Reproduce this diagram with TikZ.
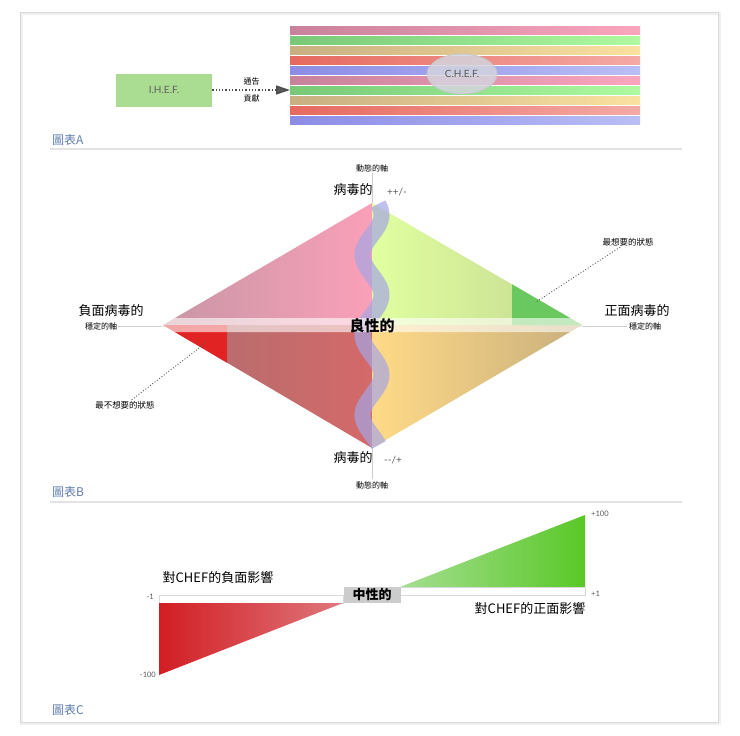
\documentclass[tikz,border=0pt]{standalone}
\usepackage{fontspec}
\setmainfont{Noto Sans CJK TC}
\newfontfamily\latinsf{Lato}
\usetikzlibrary{positioning,shapes.geometric,arrows.meta}

\definecolor{titleblue}{RGB}{95,125,175}
\definecolor{ihefgreen}{RGB}{170,220,145}
\definecolor{chefgray}{RGB}{212,212,222}
\definecolor{pinkL}{RGB}{200,130,155}\definecolor{pinkR}{RGB}{250,165,190}
\definecolor{greenL}{RGB}{120,200,120}\definecolor{greenR}{RGB}{175,250,160}
\definecolor{tanL}{RGB}{200,175,130}\definecolor{tanR}{RGB}{250,225,160}
\definecolor{redL}{RGB}{230,105,95}\definecolor{redR}{RGB}{245,170,165}
\definecolor{blueL}{RGB}{140,140,230}\definecolor{blueR}{RGB}{185,190,245}
\definecolor{tlL}{RGB}{200,150,165}\definecolor{tlR}{RGB}{250,160,185}
\definecolor{trL}{RGB}{225,255,160}\definecolor{trR}{RGB}{195,215,145}
\definecolor{blL}{RGB}{175,110,112}\definecolor{blR}{RGB}{212,105,105}
\definecolor{brL}{RGB}{255,218,135}\definecolor{brR}{RGB}{200,175,125}
\definecolor{bestgreen}{RGB}{105,200,95}
\definecolor{worstred}{RGB}{225,35,35}
\definecolor{wavecol}{RGB}{165,165,228}
\definecolor{posL}{RGB}{165,222,145}\definecolor{posR}{RGB}{90,200,40}
\definecolor{negL}{RGB}{210,30,35}\definecolor{negR}{RGB}{222,120,125}

\tikzset{
  cjklabel/.style={font=\fontsize{13}{15}\selectfont, inner sep=1pt},
  smalllabel/.style={font=\fontsize{8}{10}\selectfont, inner sep=1pt},
  notelabel/.style={font=\fontsize{8.5}{10}\selectfont, inner sep=1pt},
  numlabel/.style={font=\latinsf\fontsize{7.5}{9}\selectfont, text=gray!70!black, inner sep=1pt},
  charttitle/.style={font=\fontsize{12}{14}\selectfont, text=titleblue, inner sep=0pt, anchor=west},
  ihefbox/.style={fill=ihefgreen, minimum width=96pt, minimum height=33pt, font=\latinsf\fontsize{10}{12}\selectfont, text=gray!75!black},
  chefoval/.style={ellipse, draw=gray!45, line width=0.8pt, fill=chefgray, fill opacity=0.85, text opacity=1, minimum width=70pt, minimum height=40pt, font=\latinsf\fontsize{10}{12}\selectfont, text=gray!70!black},
  neutralbox/.style={fill=gray!40, minimum width=57pt, minimum height=16pt, inner sep=0pt, font=\bfseries\fontsize{13}{15}\selectfont},
  rule/.style={draw=gray!22, line width=1.2pt},
  axis/.style={draw=gray!40, line width=0.8pt},
  leader/.style={draw=gray!65!black, dotted, line width=0.9pt},
  bar/.style={draw=gray!30, line width=0.8pt, fill=white},
  wave/.style={line width=16pt, draw=wavecol, opacity=0.7},
}

\begin{document}
\begin{tikzpicture}[shorten >=1pt,auto]
  \useasboundingbox (0pt,0pt) rectangle (740pt,-736pt);
  % frame
  \draw[gray!12, line width=3pt] (21pt,-13pt) rectangle (719pt,-723pt);
  \draw[gray!30, line width=0.8pt] (20pt,-12pt) rectangle (718pt,-722pt);

  % chart A
  \shade[left color=pinkL, right color=pinkR] (290pt,-26pt) rectangle (640pt,-34.8pt);
  \shade[left color=greenL, right color=greenR] (290pt,-36pt) rectangle (640pt,-44.8pt);
  \shade[left color=tanL, right color=tanR] (290pt,-46pt) rectangle (640pt,-54.8pt);
  \shade[left color=redL, right color=redR] (290pt,-56pt) rectangle (640pt,-64.8pt);
  \shade[left color=blueL, right color=blueR] (290pt,-66pt) rectangle (640pt,-74.8pt);
  \shade[left color=pinkL, right color=pinkR] (290pt,-76pt) rectangle (640pt,-84.8pt);
  \shade[left color=greenL, right color=greenR] (290pt,-86pt) rectangle (640pt,-94.8pt);
  \shade[left color=tanL, right color=tanR] (290pt,-96pt) rectangle (640pt,-104.8pt);
  \shade[left color=redL, right color=redR] (290pt,-106pt) rectangle (640pt,-114.8pt);
  \shade[left color=blueL, right color=blueR] (290pt,-116pt) rectangle (640pt,-124.8pt);
  \draw (164.0pt, -90.0pt)node[ihefbox](ihef){I.H.E.F.};
  \draw (462.0pt, -74.0pt)node[chefoval](chef){C.H.E.F.};
  \coordinate (chefin) at (291pt,-90pt);
  \path[draw=gray!60!black, dotted, line width=1.3pt, -{Triangle[length=14pt,width=9pt,fill=gray!70!black]}] (ihef) edge node[smalllabel,above=3pt]{通告} node[smalllabel,below=3pt]{貢獻} (chefin);
  \draw (52.0pt, -140.0pt)node[charttitle](titleA){圖表A};
  \draw[rule] (50pt,-149pt) -- (683pt,-149pt);

  % chart B
  \draw (372.0pt, -168.0pt)node[smalllabel](dyntop){動態的軸};
  \draw (372.0pt, -485.0pt)node[smalllabel](dynbot){動態的軸};
  \draw (101.0pt, -326.0pt)node[smalllabel](stabL){穩定的軸};
  \draw (645.0pt, -326.0pt)node[smalllabel](stabR){穩定的軸};
  \draw[axis] (dyntop) -- (dynbot);
  \draw[axis] (stabL) -- (stabR);
  \shade[left color=tlL, right color=tlR] (163pt,-325pt) -- (372pt,-203pt) -- (372pt,-325pt) -- cycle;
  \shade[left color=trL, right color=trR] (372pt,-203pt) -- (582pt,-325pt) -- (372pt,-325pt) -- cycle;
  \shade[left color=blL, right color=blR] (163pt,-325pt) -- (372pt,-448pt) -- (372pt,-325pt) -- cycle;
  \shade[left color=brL, right color=brR] (372pt,-448pt) -- (582pt,-325pt) -- (372pt,-325pt) -- cycle;
  \fill[bestgreen] (512pt,-284.3pt) -- (582pt,-325pt) -- (512pt,-325pt) -- cycle;
  \fill[worstred] (163pt,-325pt) -- (227pt,-325pt) -- (227pt,-362.7pt) -- cycle;
  \draw[wave] plot[domain=204:446, samples=90, variable=\t] ({(372+9.5*sin((\t-195)*4.5))*1pt}, {-\t*1pt});
  \fill[white, opacity=0.6] (160pt,-325pt) -- (168pt,-318pt) -- (576pt,-318pt) -- (585pt,-325pt) -- (576pt,-332pt) -- (168pt,-332pt) -- cycle;
  \draw (372.0pt, -326.0pt)node[font=\bfseries\fontsize{15}{17}\selectfont, inner sep=1pt](benign){良性的};
  \draw (353.0pt, -190.0pt)node[cjklabel](virtop){病毒的};
  \draw (397.0pt, -192.0pt)node[numlabel, font=\latinsf\fontsize{10}{12}\selectfont](signtop){++/-};
  \draw (353.0pt, -458.0pt)node[cjklabel](virbot){病毒的};
  \draw (393.0pt, -460.0pt)node[numlabel, font=\latinsf\fontsize{10}{12}\selectfont](signbot){-{}-/+};
  \draw (111.0pt, -311.0pt)node[cjklabel](negvir){負面病毒的};
  \draw (637.0pt, -311.0pt)node[cjklabel](posvir){正面病毒的};
  \draw (628.0pt, -242.0pt)node[notelabel](best){最想要的狀態};
  \draw (125.0pt, -405.0pt)node[notelabel](worst){最不想要的狀態};
  \coordinate (bestpt) at (536pt,-302pt);
  \coordinate (worstpt) at (207pt,-342pt);
  \draw[leader] (best) -- (bestpt);
  \draw[leader] (worst) -- (worstpt);
  \draw (52.0pt, -492.0pt)node[charttitle](titleB){圖表B};
  \draw[rule] (50pt,-502pt) -- (683pt,-502pt);

  % chart C
  \shade[left color=posL, right color=posR] (400pt,-587pt) -- (585pt,-515pt) -- (585pt,-587pt) -- cycle;
  \draw[bar] (400pt,-587pt) rectangle (585pt,-595pt);
  \draw[bar] (159pt,-595pt) rectangle (343pt,-603pt);
  \shade[left color=negL, right color=negR] (159pt,-603pt) -- (343pt,-603pt) -- (159pt,-675pt) -- cycle;
  \draw (372.0pt, -595.0pt)node[neutralbox](neutral){中性的};
  \draw (590.0pt, -514.0pt)node[numlabel, anchor=west](plushundred){+100};
  \draw (590.0pt, -594.0pt)node[numlabel, anchor=west](plusone){+1};
  \draw (155.0pt, -597.0pt)node[numlabel, anchor=east](minusone){-1};
  \draw (157.0pt, -675.0pt)node[numlabel, anchor=east](minushundred){-100};
  \draw (218.0pt, -578.0pt)node[cjklabel](negimpact){對CHEF的負面影響};
  \draw (530.0pt, -608.0pt)node[cjklabel](posimpact){對CHEF的正面影響};
  \draw (52.0pt, -710.0pt)node[charttitle](titleC){圖表C};
\end{tikzpicture}
\end{document}
